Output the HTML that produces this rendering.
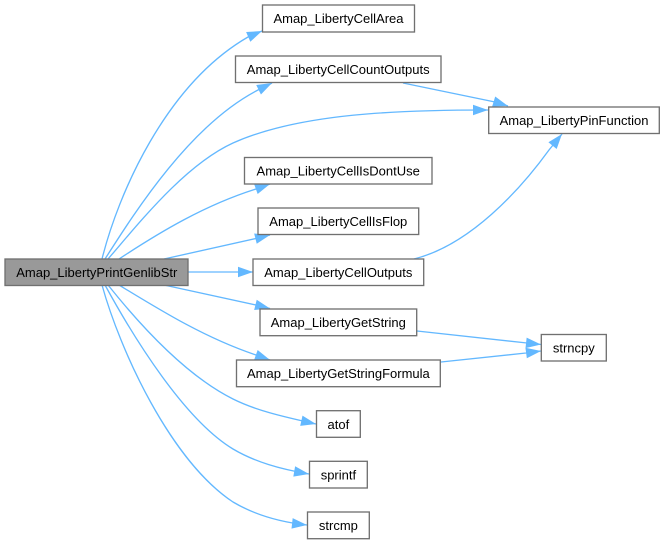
<!DOCTYPE html>
<html><head><meta charset="utf-8"><style>
html,body{margin:0;padding:0;background:#fff}
svg{display:block}
text{font-family:"Liberation Sans",sans-serif;font-size:13px;fill:#000;text-anchor:middle}
.n{fill:#fff;stroke:#707070;stroke-width:1.33}
.e{fill:none;stroke:#63b8ff;stroke-width:1.33}
</style></head><body>
<svg width="665" height="544" viewBox="0 0 665 544" xmlns="http://www.w3.org/2000/svg">
<defs><marker id="a" markerUnits="userSpaceOnUse" markerWidth="18" markerHeight="14" refX="16" refY="7" orient="auto"><path d="M1,1.7L16,7L1,12.3Z" fill="#63b8ff"/></marker></defs>
<g class="edges">
<path class="e" marker-end="url(#a)" d="M102,259C118,195 165,85 248,37L262,31"/>
<path class="e" marker-end="url(#a)" d="M105,259C135,212 190,125 258,90L272,83"/>
<path class="e" marker-end="url(#a)" d="M108,259C140,222 185,165 233,143C300,113 400,110 488,110"/>
<path class="e" marker-end="url(#a)" d="M119,259C160,232 205,205 256,189L270,184"/>
<path class="e" marker-end="url(#a)" d="M164,259L256,238.5L270,235"/>
<path class="e" marker-end="url(#a)" d="M188,272L253,272"/>
<path class="e" marker-end="url(#a)" d="M164,285L256,305L270,308.5"/>
<path class="e" marker-end="url(#a)" d="M119,285C160,310 205,338 256,355L270,360"/>
<path class="e" marker-end="url(#a)" d="M108,285C140,325 185,375 233,399C255,410 280,416 316,424"/>
<path class="e" marker-end="url(#a)" d="M105,285C135,340 185,420 233,449C255,462 280,469 309,474"/>
<path class="e" marker-end="url(#a)" d="M102,285C120,350 170,460 233,502C255,515 280,522 307,525"/>
<path class="e" marker-end="url(#a)" d="M403,83L495,102L508,106"/>
<path class="e" marker-end="url(#a)" d="M414,259C470,245 520,190 549,150L562,134"/>
<path class="e" marker-end="url(#a)" d="M417,331L527,343L541,344.5"/>
<path class="e" marker-end="url(#a)" d="M441,362L526,353L541,351"/>
</g>
<rect x="5" y="259" width="183" height="26.5" fill="#999" stroke="#707070" stroke-width="1.33"/>
<text x="96.8" y="277">Amap_LibertyPrintGenlibStr</text>
<rect class="n" x="262.5" y="5" width="152" height="27"/><text x="338.5" y="23">Amap_LibertyCellArea</text>
<rect class="n" x="235.5" y="56" width="205.5" height="26.5"/><text x="338.2" y="74">Amap_LibertyCellCountOutputs</text>
<rect class="n" x="488.7" y="107" width="170.6" height="26.5"/><text x="574" y="125">Amap_LibertyPinFunction</text>
<rect class="n" x="244.5" y="157.5" width="187.5" height="26.5"/><text x="338.2" y="175.5">Amap_LibertyCellIsDontUse</text>
<rect class="n" x="258" y="208" width="160.7" height="26.5"/><text x="338.3" y="226">Amap_LibertyCellIsFlop</text>
<rect class="n" x="253" y="259" width="170.7" height="26.5"/><text x="338.3" y="277">Amap_LibertyCellOutputs</text>
<rect class="n" x="260" y="309" width="156.7" height="26.7"/><text x="338.3" y="327">Amap_LibertyGetString</text>
<rect class="n" x="236.5" y="360" width="203.8" height="26.7"/><text x="338.4" y="378">Amap_LibertyGetStringFormula</text>
<rect class="n" x="316.5" y="410.7" width="43.8" height="26.6"/><text x="338.4" y="429">atof</text>
<rect class="n" x="309.5" y="461.3" width="57.8" height="26.7"/><text x="338.4" y="479.5">sprintf</text>
<rect class="n" x="307.5" y="512" width="61.8" height="26.7"/><text x="338.4" y="530">strcmp</text>
<rect class="n" x="541.3" y="334.5" width="65" height="26.5"/><text x="573.8" y="352.5">strncpy</text>
</svg>
</body></html>
